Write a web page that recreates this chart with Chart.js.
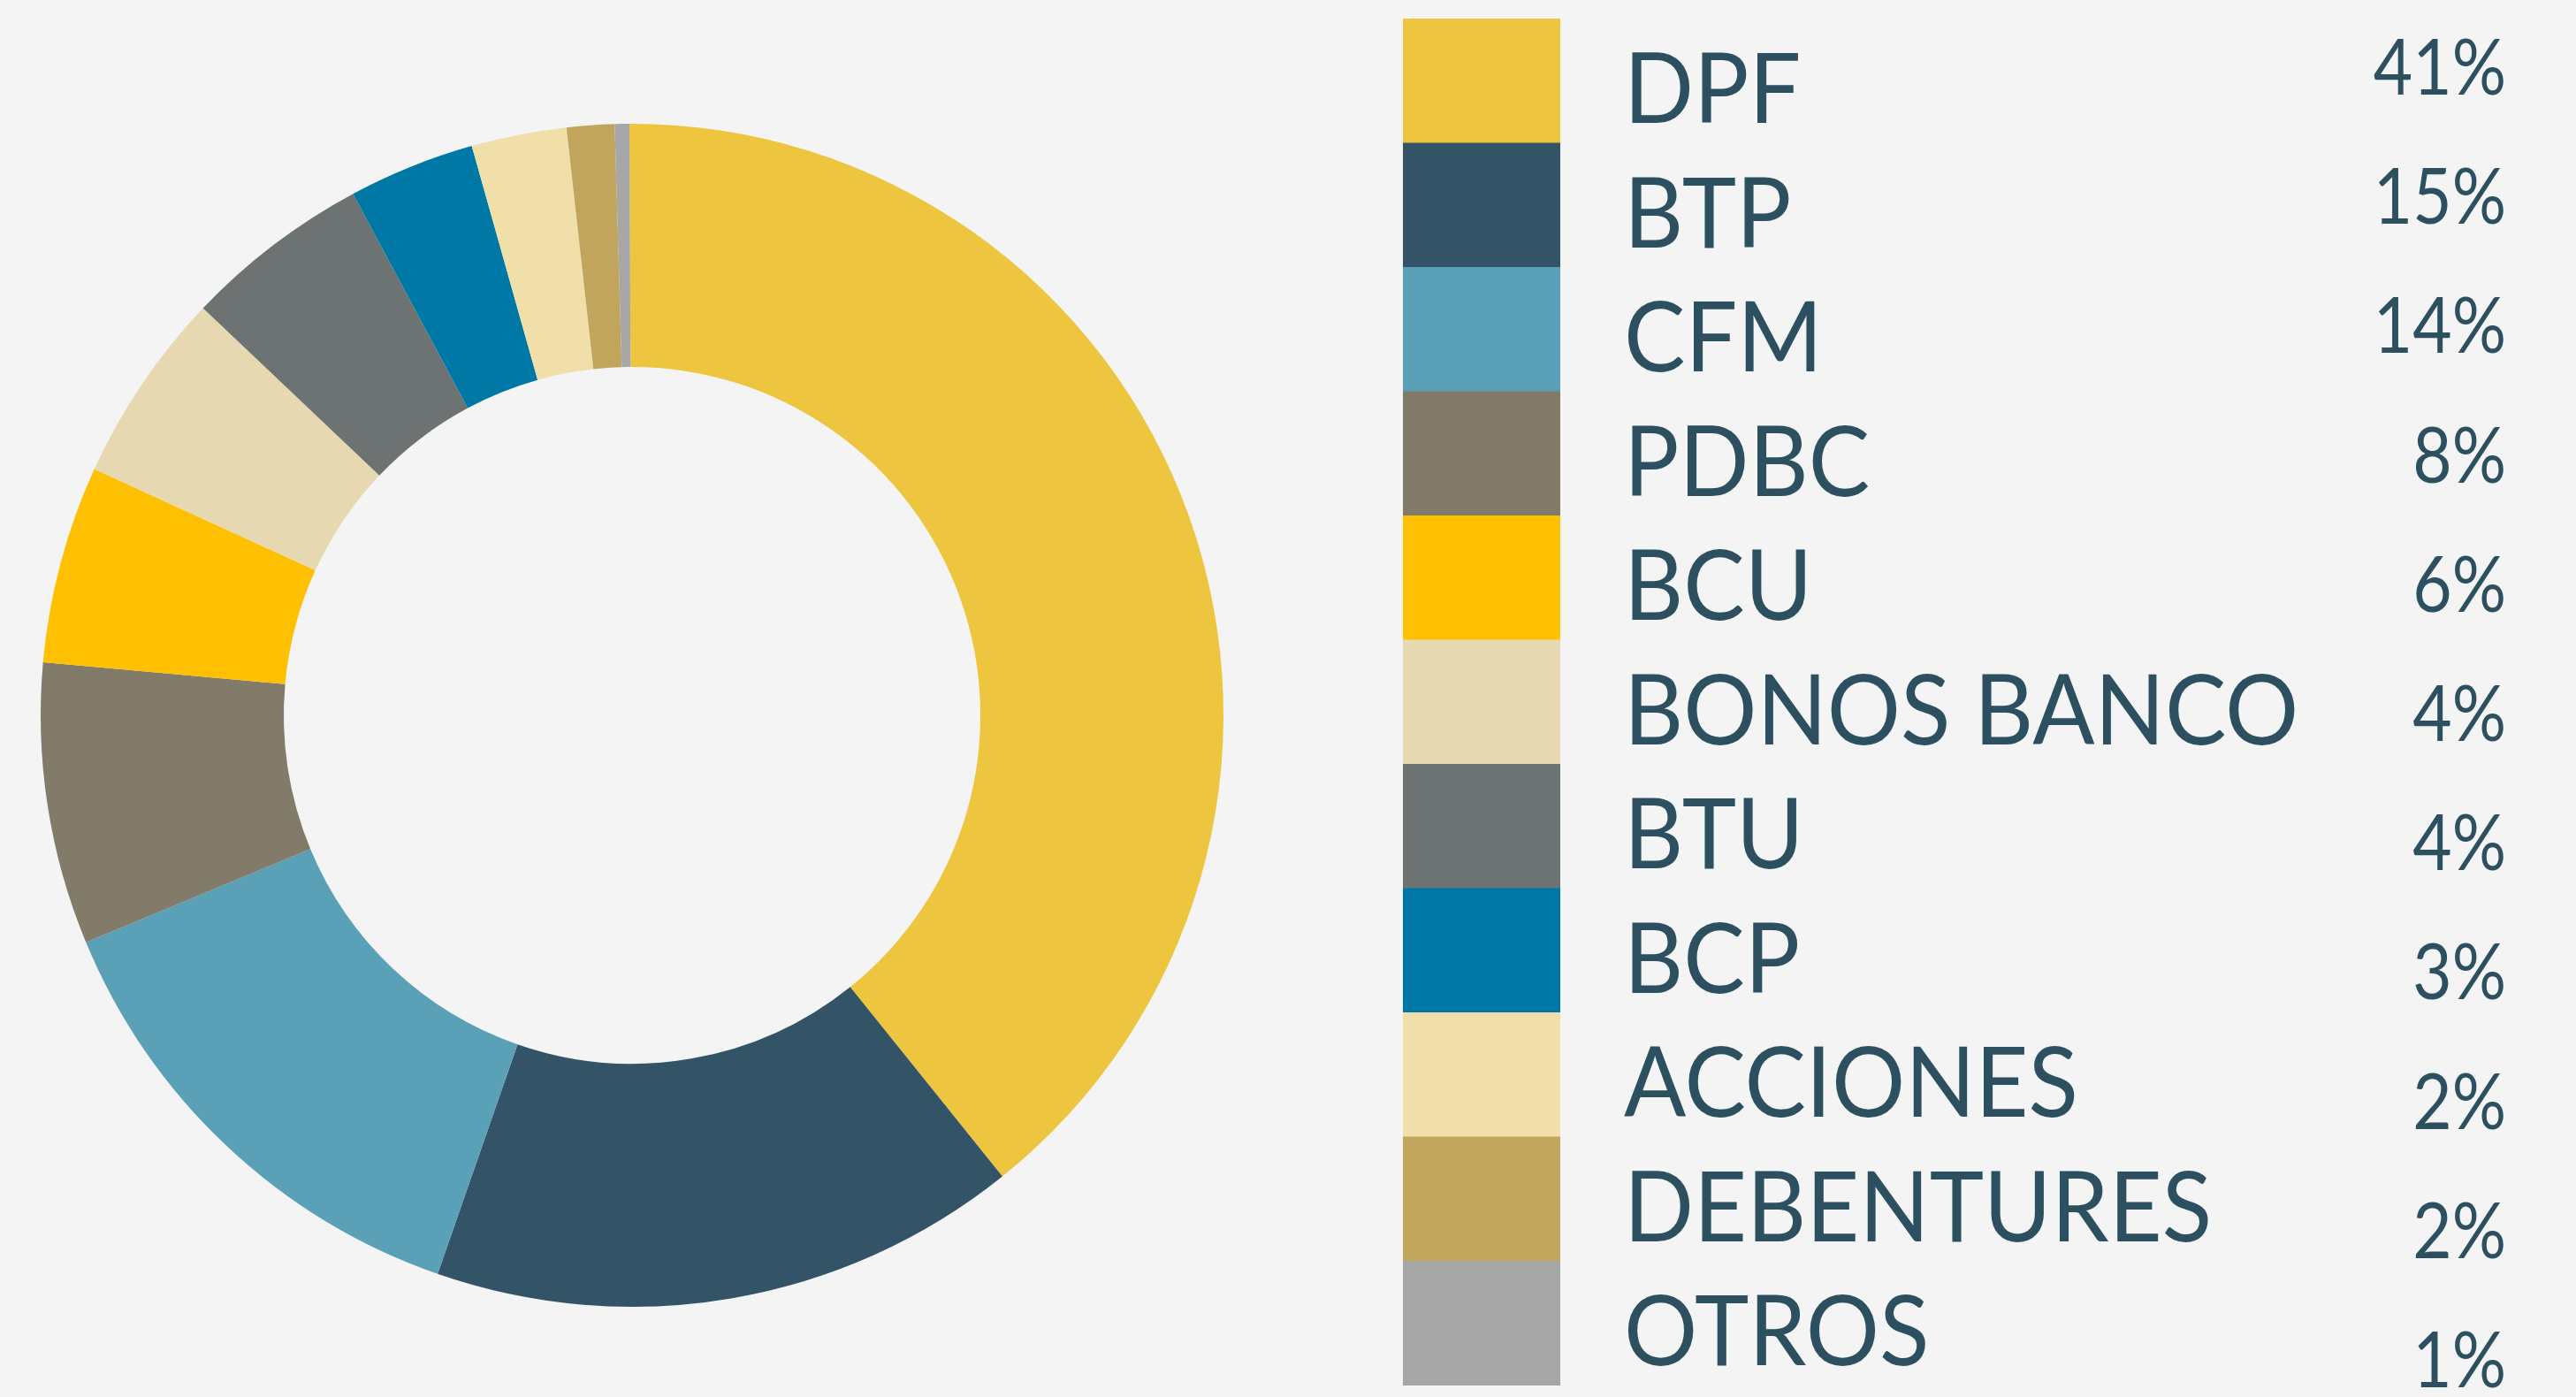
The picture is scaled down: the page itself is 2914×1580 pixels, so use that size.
<!DOCTYPE html>
<html>
<head>
<meta charset="utf-8">
<script src="https://cdn.jsdelivr.net/npm/chart.js@4.4.1/dist/chart.umd.min.js"></script>
<style>
  html, body { margin: 0; padding: 0; background: #F4F4F4; }
  #wrap { width: 2914px; height: 1580px; }
</style>
</head>
<body>
<div id="wrap"><canvas id="myChart" width="2914" height="1580"></canvas></div>
<script>
// DATOS
const categorias = ['DPF', 'BTP', 'CFM', 'PDBC', 'BCU', 'BONOS BANCO', 'BTU', 'BCP', 'ACCIONES', 'DEBENTURES', 'OTROS'];
// porcion de cada segmento tal como se ve en el anillo
const valores = [39.3, 16.1, 13.4, 7.7, 5.4, 5.25, 5.1, 3.45, 2.6, 1.3, 0.4];
// porcentajes que muestra la leyenda
const etiquetasPct = ['41%', '15%', '14%', '8%', '6%', '4%', '4%', '3%', '2%', '2%', '1%'];
const colores = ['#EEC53E', '#325466', '#5AA1B7', '#837B6A', '#FEC000', '#E6D8B0', '#6D7372', '#0078A6', '#F1DFA9', '#C1A55C', '#A6A7A6'];

const textColor = '#2D5060';

// texto algo mas estrecho, como la fuente original
function drawText(ctx, txt, x, y, sx, align) {
    ctx.save();
    ctx.translate(x, y);
    ctx.scale(sx, 1);
    ctx.textAlign = align;
    ctx.fillText(txt, 0, 0);
    ctx.restore();
}

// LEYENDA LATERAL
const sideLegend = {
    id: 'sideLegend',
    afterDraw(chart) {
        const ctx = chart.ctx;
        const boxX = 1587, boxW = 178, top = 21, rowH = 140.5;
        ctx.save();
        chart.data.labels.forEach((label, i) => {
            const y = top + i * rowH;
            ctx.fillStyle = chart.data.datasets[0].backgroundColor[i];
            ctx.fillRect(boxX, y, boxW, rowH + 0.5);

            ctx.fillStyle = textColor;
            ctx.textBaseline = 'alphabetic';
            ctx.font = '400 110px Lato';
            drawText(ctx, label, 1837, y + 118, 0.945, 'left');

            ctx.font = '400 88px Lato';
            drawText(ctx, etiquetasPct[i], 2835, 107 + i * 146.2, 0.87, 'right');
        });
        ctx.restore();
    }
};

const data = {
    labels: categorias,
    datasets: [{
        data: valores,
        backgroundColor: colores,
        borderWidth: 0,
        hoverOffset: 0
    }]
};

const config = {
    type: 'doughnut',
    data: data,
    options: {
        responsive: false,
        animation: false,
        cutout: '58.9%',
        rotation: -0.25,
        layout: {
            padding: { left: 46, right: 1530, top: 140, bottom: 102 }
        },
        plugins: {
            legend: { display: false },
            tooltip: { enabled: false }
        }
    },
    plugins: [sideLegend]
};

const myChart = new Chart(document.getElementById('myChart'), config);
</script>
</body>
</html>
